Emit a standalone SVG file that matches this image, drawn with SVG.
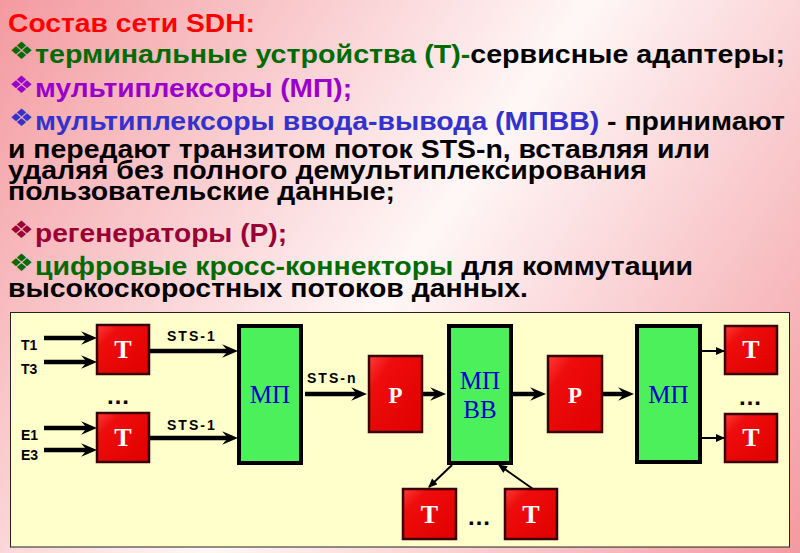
<svg xmlns="http://www.w3.org/2000/svg" width="800" height="553" viewBox="0 0 800 553">
<defs>
<linearGradient id="bg" gradientUnits="userSpaceOnUse" x1="0" y1="0" x2="800" y2="553">
<stop offset="0" stop-color="#f39aa0"/>
<stop offset="0.5" stop-color="#fff7f7"/>
<stop offset="1" stop-color="#f39aa0"/>
</linearGradient>
<linearGradient id="red" x1="0" y1="0" x2="1" y2="1">
<stop offset="0" stop-color="#ff3a3a"/>
<stop offset="0.25" stop-color="#ee0c0c"/>
<stop offset="1" stop-color="#e00000"/>
</linearGradient>
<marker id="chev" markerUnits="userSpaceOnUse" markerWidth="16" markerHeight="14" viewBox="0 0 14 12" refX="6" refY="6" orient="auto">
<path d="M0,0 L14,6 L0,12 L5,6 Z" fill="#000"/>
</marker>
<marker id="thin" markerUnits="userSpaceOnUse" markerWidth="10" markerHeight="8" viewBox="0 0 9 8" refX="8" refY="4" orient="auto">
<path d="M0,0 L9,4 L0,8 Z" fill="#000"/>
</marker>
<style>
.txt{font-family:"Liberation Sans",Arial,sans-serif;font-weight:bold;font-size:25px}
.bul{font-family:"DejaVu Sans",sans-serif;font-size:24px}
.blk{fill:#000}
.grn{fill:#006b00}
.pur{fill:#9900cc}
.blu{fill:#3333cc}
.mar{fill:#990033}
.panel{fill:#ffffcc;stroke:#222;stroke-width:1}
.rbox{fill:url(#red);stroke:#3a0000;stroke-width:2.5}
.gbox{fill:#4cf05a;stroke:#000;stroke-width:4}
.rlab{font-family:"Liberation Serif","Times New Roman",serif;font-weight:bold;fill:#fff;text-anchor:middle}
.glab{font-family:"Liberation Serif","Times New Roman",serif;fill:#0000cc;font-size:25px;text-anchor:middle}
.small{font-family:"Liberation Sans",Arial,sans-serif;font-weight:bold;font-size:14px;fill:#000}
.dots{font-family:"Liberation Sans",Arial,sans-serif;font-weight:bold;font-size:24px;fill:#000}
.thick{stroke:#000;stroke-width:4.5;fill:none;marker-end:url(#chev)}
.tl{stroke:#000;stroke-width:2;fill:none;marker-end:url(#thin)}
</style>
</defs>
<rect x="0" y="0" width="800" height="553" fill="url(#bg)"/>

<g id="text">
<text class="txt" x="8" y="32" fill="#ff0000" font-size="26" textLength="247" lengthAdjust="spacingAndGlyphs">Состав сети SDH:</text>
<text class="bul grn" transform="translate(9,59) scale(1.15,1)">❖</text>
<text class="txt" x="35" y="63" textLength="750" lengthAdjust="spacingAndGlyphs"><tspan class="grn">терминальные устройства (Т)-</tspan><tspan class="blk">сервисные адаптеры;</tspan></text>
<text class="bul pur" transform="translate(9,93) scale(1.15,1)">❖</text>
<text class="txt pur" x="35" y="97" textLength="317" lengthAdjust="spacingAndGlyphs">мультиплексоры (МП);</text>
<text class="bul blu" transform="translate(9,126) scale(1.15,1)">❖</text>
<text class="txt" x="35" y="130" textLength="750" lengthAdjust="spacingAndGlyphs"><tspan class="blu">мультиплексоры ввода-вывода (МПВВ)</tspan><tspan class="blk"> - принимают</tspan></text>
<text class="txt blk" x="8" y="158" textLength="702" lengthAdjust="spacingAndGlyphs">и передают транзитом поток STS-n, вставляя или</text>
<text class="txt blk" x="8" y="179" textLength="639" lengthAdjust="spacingAndGlyphs">удаляя без полного демультиплексирования</text>
<text class="txt blk" x="8" y="200" textLength="387" lengthAdjust="spacingAndGlyphs">пользовательские данные;</text>
<text class="bul mar" transform="translate(9,237.5) scale(1.15,1)">❖</text>
<text class="txt mar" x="35" y="242" textLength="252" lengthAdjust="spacingAndGlyphs">регенераторы (Р);</text>
<text class="bul grn" transform="translate(9,271) scale(1.15,1)">❖</text>
<text class="txt" x="35" y="275" textLength="658" lengthAdjust="spacingAndGlyphs"><tspan class="grn">цифровые кросс-коннекторы</tspan><tspan class="blk"> для коммутации</tspan></text>
<text class="txt blk" x="8" y="297" textLength="520" lengthAdjust="spacingAndGlyphs">высокоскоростных потоков данных.</text>
</g>

<rect class="panel" x="10.5" y="312.5" width="779" height="234.5"/>

<g id="connectors">
<line class="thick" x1="44" y1="338" x2="88" y2="338"/>
<line class="thick" x1="44" y1="362" x2="88" y2="362"/>
<line class="thick" x1="44" y1="428" x2="88" y2="428"/>
<line class="thick" x1="44" y1="450" x2="88" y2="450"/>
<line class="thick" x1="150" y1="351" x2="229" y2="351"/>
<line class="thick" x1="150" y1="438" x2="229" y2="438"/>
<line class="thick" x1="305" y1="394" x2="358" y2="394"/>
<line class="thick" x1="423" y1="394" x2="437" y2="394"/>
<line class="thick" x1="513" y1="394" x2="537" y2="394"/>
<line class="thick" x1="603" y1="394" x2="625" y2="394"/>
<line class="tl" x1="702" y1="351" x2="724" y2="351"/>
<line class="tl" x1="702" y1="438" x2="724" y2="438"/>
<line class="tl" x1="452" y1="465" x2="429" y2="487"/>
<line class="tl" x1="533" y1="489" x2="499" y2="465"/>
<text class="small" x="21" y="350">T1</text>
<text class="small" x="21" y="374">T3</text>
<text class="small" x="21" y="440">E1</text>
<text class="small" x="21" y="460">E3</text>
<text class="small" x="167" y="341" letter-spacing="2">STS-1</text>
<text class="small" x="167" y="430" letter-spacing="2">STS-1</text>
<text class="small" x="307" y="383" letter-spacing="2">STS-n</text>
</g>

<g id="t-in-1"><rect class="rbox" x="97" y="325" width="52" height="49"/><text class="rlab" x="123" y="358" font-size="26">Т</text></g>
<g id="t-in-2"><rect class="rbox" x="97" y="413" width="52" height="49"/><text class="rlab" x="123" y="446" font-size="26">Т</text></g>
<text class="dots" x="106" y="404">…</text>
<g id="mp-1"><rect class="gbox" x="239" y="326" width="62" height="137"/><text class="glab" x="270" y="403">МП</text></g>
<g id="p-1"><rect class="rbox" x="369" y="356" width="53" height="76"/><text class="rlab" x="395.5" y="403" font-size="23">Р</text></g>
<g id="mpvv"><rect class="gbox" x="449" y="326" width="62" height="137"/><text class="glab" x="480" y="389">МП</text><text class="glab" x="480" y="418">ВВ</text></g>
<g id="p-2"><rect class="rbox" x="548" y="356" width="54" height="76"/><text class="rlab" x="575" y="403" font-size="23">Р</text></g>
<g id="mp-2"><rect class="gbox" x="637" y="326" width="63" height="136"/><text class="glab" x="668.5" y="403">МП</text></g>
<g id="t-out-1"><rect class="rbox" x="725" y="326" width="52" height="48"/><text class="rlab" x="751" y="358" font-size="26">Т</text></g>
<g id="t-out-2"><rect class="rbox" x="725" y="414" width="52" height="48"/><text class="rlab" x="751" y="446" font-size="26">Т</text></g>
<text class="dots" x="738" y="405">…</text>
<g id="t-drop-1"><rect class="rbox" x="403" y="489" width="53" height="50"/><text class="rlab" x="429.5" y="523" font-size="26">Т</text></g>
<g id="t-drop-2"><rect class="rbox" x="505" y="489" width="52" height="50"/><text class="rlab" x="531" y="523" font-size="26">Т</text></g>
<text class="dots" x="467" y="525">…</text>
</svg>
